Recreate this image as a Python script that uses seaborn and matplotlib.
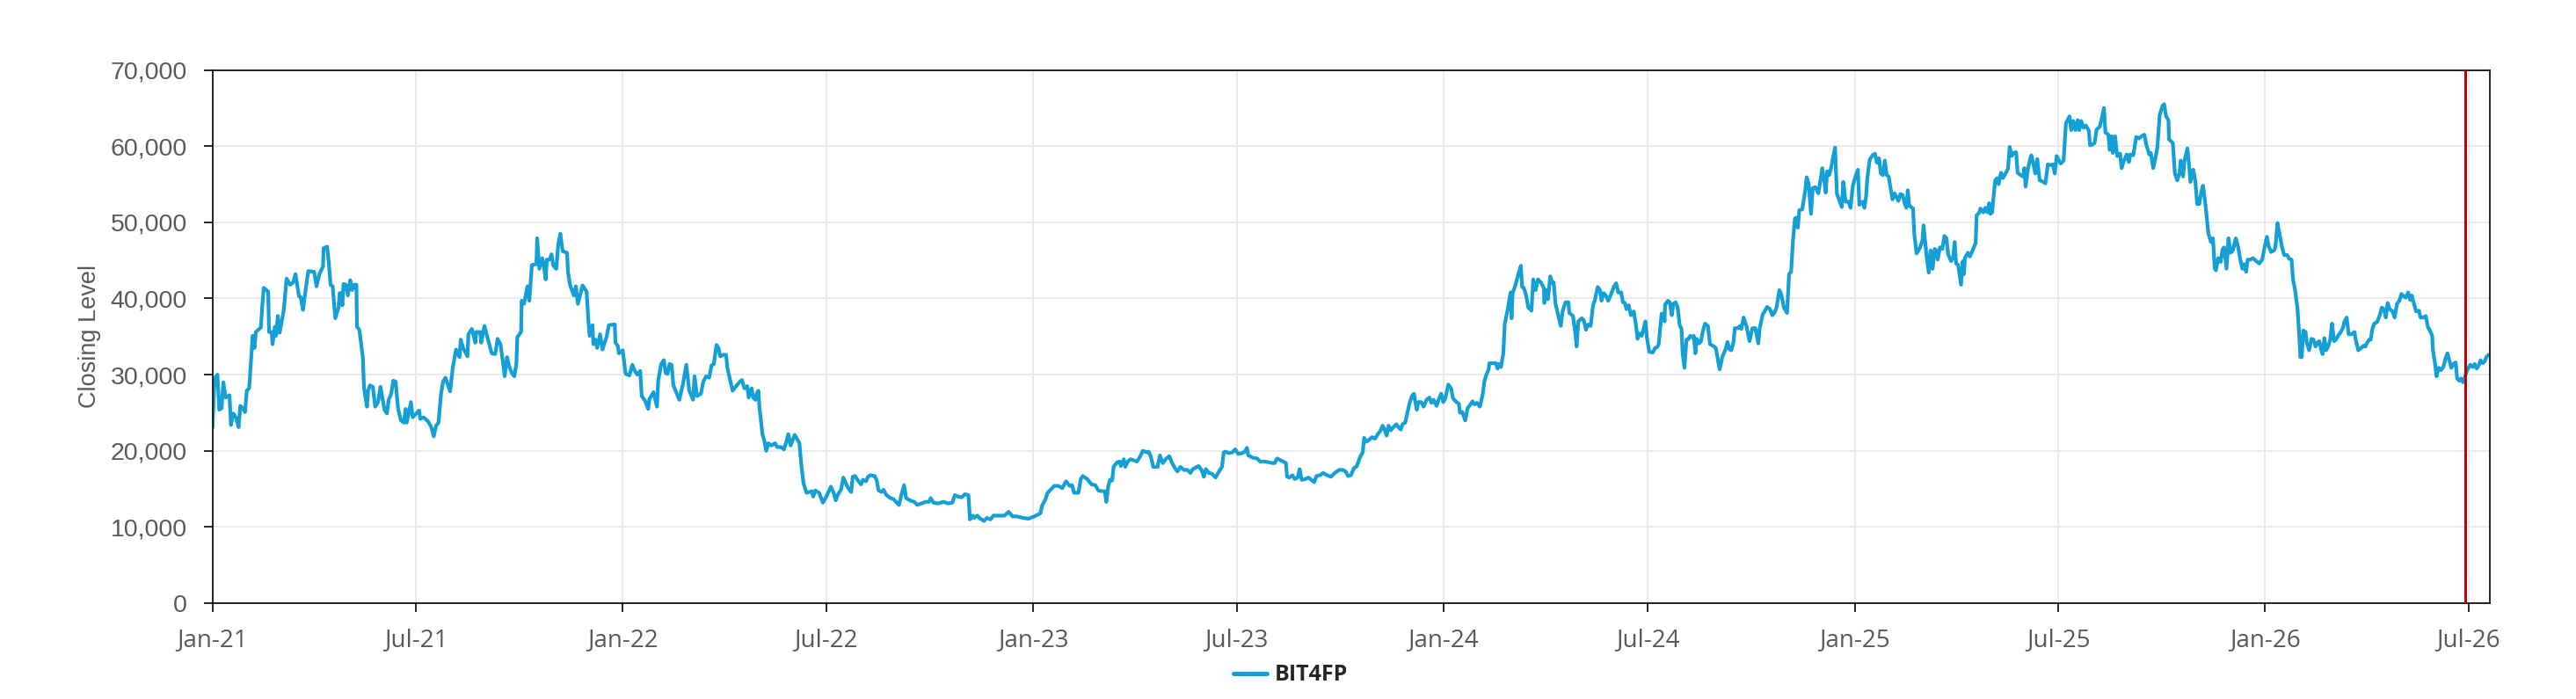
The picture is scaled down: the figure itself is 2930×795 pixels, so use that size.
import numpy as np
import pandas as pd
import matplotlib
matplotlib.use("Agg")
import matplotlib.pyplot as plt
import matplotlib.dates as mdates
from matplotlib.ticker import FuncFormatter, MultipleLocator
from matplotlib.lines import Line2D
import seaborn as sns

# ---------------- data (closing level in thousands, x = days since START) ----------------
START = "2021-01-01"
SERIES_NAME = "BIT4FP"
MARKER_DATE = "2026-06-28"
X_END = "2026-07-20"

seg1_days = [0, 1.8, 4.4, 6.0, 8.1, 9.6, 11.7, 15.1, 16.4, 18.5, 20.8, 23.2, 24.7, 26.8, 28.9, 30.5, 32.6, 35.7, 37.3, 38.6,
             43.0, 44.3, 45.6, 49.5, 50.3, 52.6, 53.4, 55.5, 56.5, 58.1, 59.7, 63.3, 65.9, 69.1, 71.7, 73.8, 76.9, 78.4, 80.5, 82.1,
             85.2, 90.4, 92.5, 95.1, 98.3, 98.8, 101.9, 103.5, 105.0, 106.9, 109.2, 112.1, 113.1, 114.4, 115.5, 116.5, 118.6, 120.4, 122.5, 124.3,
             125.9, 128.0, 128.5, 130.6, 133.7, 134.8, 137.4, 138.4, 140.0, 142.6, 144.7, 147.3, 149.4, 153.0, 155.1, 156.7, 159.0, 160.8, 162.9, 165.0,
             167.6, 170.2, 171.8, 172.8, 176.5, 178.0, 183.8, 184.8, 187.7, 191.6, 194.7, 196.8, 198.9, 201.0, 203.3, 205.1, 207.2, 211.4, 213.7, 216.6,
             219.7, 220.8, 222.9, 226.8, 227.6, 230.7, 233.8, 234.6, 238.0, 239.0, 241.9, 245.8, 248.4, 251.5, 253.6, 256.2, 258.1, 259.9, 262.0, 264.1,
             266.7, 268.5, 270.3, 271.1, 274.5, 275.0, 277.1, 280.2, 281.8, 284.1, 288.1, 288.8, 290.7, 293.3, 294.6, 296.4, 297.4, 299.8, 301.6, 303.2,
             305.8, 307.6, 309.4, 311.5, 315.4, 316.2, 318.0, 321.4, 323.2, 325.0]
seg1_vals = [23.05, 29.5, 30.0, 25.4, 25.6, 29.0, 27.0, 27.3, 23.4, 24.9, 24.4, 23.1, 25.9, 25.6, 25.1, 27.9, 28.2, 35.1, 33.5, 35.6,
             36.2, 39.1, 41.4, 40.9, 35.6, 35.6, 34.0, 36.3, 35.1, 37.7, 35.5, 38.4, 42.6, 41.8, 42.1, 43.2, 40.3, 40.2, 38.5, 40.4,
             43.6, 43.5, 41.6, 43.2, 44.2, 46.6, 46.8, 44.6, 41.8, 41.6, 37.4, 38.8, 40.7, 40.7, 39.1, 41.9, 41.8, 40.4, 42.4, 41.1,
             41.8, 41.8, 36.3, 35.9, 32.3, 28.2, 25.8, 27.9, 28.6, 28.4, 25.8, 26.4, 28.4, 25.4, 24.9, 26.7, 27.5, 29.2, 29.1, 25.6,
             24.0, 23.7, 25.5, 23.7, 26.4, 24.4, 25.3, 24.2, 24.4, 23.9, 23.1, 21.9, 23.3, 23.7, 27.5, 29.1, 29.6, 27.8, 30.9, 33.3,
             32.3, 34.6, 33.5, 32.4, 35.3, 36.0, 34.2, 35.6, 35.6, 34.2, 36.4, 34.2, 32.8, 32.7, 34.7, 34.0, 31.9, 29.8, 32.3, 31.0,
             30.1, 29.8, 31.4, 34.9, 35.6, 39.7, 39.3, 41.6, 39.7, 44.4, 44.5, 47.9, 43.9, 45.3, 44.4, 42.5, 45.1, 45.1, 45.8, 44.3,
             43.9, 47.2, 48.5, 46.2, 46.0, 43.5, 41.8, 40.4, 41.6, 39.3]

seg2_days = [329.2, 332.8, 334.4, 335.4, 338.0, 338.8, 340.7, 342.2, 344.8, 346.9, 350.6, 352.6, 357.9, 358.4, 360.5, 361.5, 364.9, 367.5, 370.9, 373.5,
             375.6, 377.9, 380.5, 381.8, 385.0, 387.6, 388.6, 392.3, 395.4, 396.4, 399.1, 401.4, 403.2, 404.8, 406.6, 408.4, 410.0, 415.2, 418.3, 421.5,
             424.1, 427.5, 428.8, 430.9, 434.5, 436.6, 439.2, 441.8, 443.9, 446.0, 448.3, 450.1, 451.7, 454.3, 456.9, 458.0, 460.1, 462.7, 465.3, 469.2,
             471.0, 473.1, 475.7, 477.0, 479.6, 480.9, 483.0, 484.0, 485.6, 486.6, 489.3, 490.8, 492.6, 494.5, 497.1, 500.5, 502.3, 505.7, 508.3, 510.1,
             512.2, 514.3, 517.9, 522.1, 523.9, 525.8, 528.4, 531.0, 533.1, 534.4, 536.2, 539.6, 543.0, 546.1, 550.0, 552.6, 554.4, 556.5, 559.1, 561.2,
             563.8, 565.6, 568.2, 569.5, 571.6, 574.2, 576.9, 578.7, 581.3, 583.1, 585.2, 589.1, 590.9, 592.5, 595.1, 596.9, 599.5, 602.9, 605.5, 608.7,
             610.7, 612.6, 615.2, 617.0, 620.4, 624.3, 626.9, 630.8, 634.2, 637.3, 638.9, 641.3, 645.2, 650.4, 654.3, 658.2, 660.3, 663.4, 666.5, 669.1,
             672.5, 673.8, 676.4]
seg2_vals = [41.7, 40.9, 37.0, 35.1, 36.5, 34.0, 34.6, 33.5, 35.3, 33.3, 35.0, 36.5, 36.6, 34.2, 33.8, 32.8, 33.2, 30.1, 29.9, 31.3,
             30.5, 30.0, 30.5, 27.2, 26.5, 25.5, 26.8, 27.7, 25.8, 29.1, 31.4, 31.9, 30.2, 30.1, 31.4, 31.3, 28.6, 26.7, 28.6, 31.3,
             27.9, 26.7, 29.8, 27.2, 27.5, 29.1, 29.8, 29.6, 31.2, 31.4, 33.9, 33.5, 32.4, 32.6, 32.6, 30.9, 29.5, 27.9, 28.4, 29.1,
             29.3, 28.2, 28.5, 27.0, 28.2, 27.0, 26.7, 27.5, 27.9, 25.6, 22.1, 21.4, 20.0, 21.0, 20.7, 21.0, 20.5, 20.5, 20.2, 21.0,
             22.2, 20.7, 22.1, 21.0, 18.0, 15.7, 14.5, 14.6, 14.7, 14.0, 14.8, 14.5, 13.2, 14.0, 15.3, 14.5, 13.5, 14.3, 14.9, 16.5,
             15.6, 15.1, 14.6, 16.6, 16.7, 16.1, 15.6, 16.2, 16.0, 16.6, 16.8, 16.7, 16.1, 14.8, 14.6, 14.9, 14.2, 13.8, 13.7, 13.2,
             12.9, 14.1, 15.5, 13.8, 13.5, 13.3, 12.9, 13.1, 13.3, 13.3, 13.8, 13.2, 13.1, 13.3, 13.1, 13.2, 14.2, 14.0, 13.9, 14.3,
             14.2, 11.0, 11.5]

seg3_days = [677.7, 680.3, 683.0, 686.3, 688.9, 692.1, 694.7, 699.9, 704.6, 708.2, 711.6, 715.5, 720.8, 726.0, 731.2, 736.4, 738.0, 741.1, 742.9, 745.5,
             748.9, 752.6, 755.9, 759.3, 762.5, 764.6, 766.4, 770.3, 772.4, 774.2, 778.1, 782.0, 785.4, 788.0, 791.1, 793.8, 795.1, 796.9, 798.4, 800.3,
             801.6, 804.7, 806.8, 808.1, 810.7, 812.0, 814.1, 816.7, 822.4, 825.0, 827.6, 831.6, 832.9, 835.0, 836.8, 840.7, 842.8, 845.4, 848.5, 851.1,
             853.7, 856.3, 858.4, 861.0, 864.1, 867.3, 869.9, 872.0, 877.2, 879.8, 881.9, 883.7, 886.3, 888.9, 892.3, 895.4, 898.0, 899.6, 901.2, 904.5,
             907.2, 909.8, 912.4, 915.8, 918.4, 920.2, 921.5, 925.4, 929.3, 931.9, 935.8, 939.7, 942.9, 945.0, 947.0, 949.6, 952.3, 954.9, 955.9, 958.0,
             960.6, 962.7, 965.3, 967.1, 968.9, 972.3, 974.9, 977.5, 980.1, 982.0, 985.4, 988.0, 991.4, 995.0, 998.4]
seg3_vals = [11.2, 11.5, 11.1, 10.8, 11.2, 11.0, 11.5, 11.5, 11.5, 12.0, 11.4, 11.4, 11.2, 11.1, 11.4, 11.8, 12.8, 13.7, 14.5, 14.9,
             15.4, 15.4, 15.1, 16.0, 15.4, 15.5, 14.5, 14.5, 16.3, 16.7, 16.3, 15.6, 15.5, 14.8, 14.7, 14.7, 13.3, 15.4, 16.2, 16.1,
             17.9, 18.5, 18.6, 18.0, 18.9, 17.9, 18.6, 18.9, 18.6, 19.2, 20.0, 19.8, 19.9, 19.1, 17.9, 17.9, 19.4, 18.4, 19.0, 19.3,
             18.4, 17.7, 17.3, 17.9, 17.5, 17.5, 17.1, 17.6, 18.0, 17.5, 16.6, 17.6, 17.1, 17.0, 16.5, 17.3, 17.9, 19.8, 19.9, 19.7,
             19.8, 20.2, 19.6, 19.7, 19.9, 20.4, 19.4, 19.1, 19.0, 18.6, 18.6, 18.5, 18.4, 18.4, 19.0, 18.8, 18.6, 18.4, 16.6, 16.5,
             16.8, 16.3, 16.5, 17.6, 16.2, 16.3, 16.5, 16.2, 15.9, 16.7, 16.8, 17.1, 16.8, 16.6, 17.1]

seg4_days = [1002.3, 1005.4, 1008.0, 1010.1, 1012.7, 1015.3, 1018.0, 1020.6, 1023.2, 1024.5, 1026.3, 1028.4, 1031.5, 1034.1, 1036.7, 1038.8, 1040.9, 1042.7, 1044.5, 1046.1,
             1048.2, 1050.5, 1053.1, 1055.0, 1057.1, 1058.6, 1061.0, 1062.8, 1064.9, 1067.0, 1068.8, 1070.1, 1071.4, 1072.7, 1075.3, 1077.4, 1080.0, 1082.6, 1084.4, 1086.3,
             1088.9, 1090.9, 1093.0, 1094.9, 1096.7, 1099.3, 1101.9, 1103.5, 1106.6, 1108.7, 1109.7, 1111.8, 1114.4, 1116.5, 1119.1, 1120.9, 1122.7, 1124.8, 1127.4, 1130.1,
             1131.4, 1133.2, 1135.3, 1135.8, 1141.8, 1143.1, 1144.4, 1146.2, 1148.3, 1149.6, 1152.2, 1153.5, 1154.8, 1155.6, 1156.6, 1158.7, 1161.3, 1163.9, 1165.0, 1166.5,
             1168.6, 1170.5, 1172.3, 1173.3, 1174.9, 1177.0, 1179.1, 1181.7, 1184.3, 1184.8, 1186.9, 1188.0, 1190.0, 1192.1, 1193.1, 1194.7, 1197.3, 1199.4, 1201.0, 1203.6,
             1206.2, 1207.0, 1210.3, 1212.2, 1213.5, 1215.0, 1218.2, 1220.0, 1221.8, 1223.9, 1226.0, 1228.1, 1229.6, 1232.2, 1234.3, 1235.6, 1237.5, 1239.5, 1241.6, 1243.7,
             1246.8, 1248.7, 1250.5, 1253.1, 1254.7, 1256.5, 1257.8, 1259.9, 1261.7, 1264.3, 1266.1, 1267.7, 1269.5, 1271.4, 1272.9, 1274.7, 1276.0, 1278.1, 1281.2, 1283.3,
             1285.2, 1286.5, 1289.1, 1291.2, 1291.7, 1292.2, 1294.8, 1296.3, 1298.2, 1299.5, 1301.6, 1303.4, 1305.2, 1306.8, 1307.8, 1309.4, 1311.2, 1312.5, 1314.6, 1316.5,
             1317.8, 1319.1, 1320.4, 1322.4, 1324.2, 1325.6, 1327.7, 1330.3, 1332.1, 1334.7, 1337.3]
seg4_vals = [17.5, 17.5, 17.3, 16.7, 16.8, 17.7, 18.0, 19.1, 19.8, 21.7, 21.2, 21.4, 21.8, 21.6, 22.2, 22.6, 23.3, 22.8, 22.0, 23.3,
             22.7, 23.1, 23.5, 23.1, 22.8, 23.5, 23.7, 24.9, 26.3, 27.2, 27.5, 26.3, 25.4, 26.4, 26.4, 25.8, 26.7, 27.0, 26.3, 26.7,
             25.9, 26.8, 27.5, 26.4, 26.9, 28.7, 28.2, 26.9, 26.4, 26.2, 25.0, 25.1, 24.0, 25.6, 26.1, 26.5, 26.1, 26.3, 25.8, 27.5,
             29.1, 30.0, 30.7, 31.5, 31.5, 30.8, 31.4, 31.0, 32.8, 36.7, 38.6, 39.7, 40.8, 37.4, 40.7, 41.6, 43.0, 44.3, 41.5, 41.4,
             40.4, 38.8, 38.6, 38.4, 42.5, 41.1, 42.5, 42.1, 41.4, 39.4, 41.1, 39.9, 42.9, 42.0, 42.1, 39.3, 37.7, 36.4, 38.3, 39.5,
             39.5, 38.1, 37.7, 35.6, 33.7, 37.0, 37.4, 37.1, 35.9, 36.6, 36.4, 39.1, 39.7, 41.5, 41.1, 39.7, 40.7, 40.4, 39.7, 40.4,
             41.6, 42.0, 40.8, 40.8, 39.5, 39.4, 38.6, 39.1, 37.8, 38.3, 36.7, 34.7, 35.4, 35.1, 35.9, 37.0, 34.9, 33.0, 32.9, 33.5,
             33.6, 34.0, 38.0, 38.0, 37.0, 39.2, 39.7, 39.5, 37.8, 39.3, 39.5, 38.8, 36.5, 36.0, 32.8, 30.9, 34.6, 34.6, 35.1, 34.9,
             35.1, 32.8, 34.7, 34.1, 34.4, 35.6, 36.7, 36.4, 34.0, 33.8, 33.5]

seg5_days = [1340.7, 1343.3, 1345.9, 1347.7, 1349.6, 1351.1, 1353.0, 1354.2, 1356.9, 1358.9, 1360.0, 1362.1, 1364.7, 1367.3, 1369.9, 1372.5, 1375.1, 1376.4, 1379.0, 1380.8,
             1382.9, 1385.5, 1387.6, 1389.4, 1391.3, 1393.9, 1395.4, 1398.0, 1400.7, 1402.5, 1404.3, 1405.9, 1407.7, 1409.0, 1410.3, 1411.6, 1414.2, 1416.8, 1418.1, 1419.9,
             1422.0, 1423.6, 1426.0, 1428.5, 1430.4, 1432.0, 1433.8, 1435.1, 1436.4, 1438.2, 1439.8, 1441.6, 1443.4, 1445.0, 1447.6, 1449.4, 1450.7, 1452.8, 1455.4, 1457.2,
             1459.1, 1461.1, 1463.7, 1465.0, 1467.7, 1469.5, 1471.0, 1472.1, 1474.2, 1476.8, 1478.9, 1480.7, 1482.5, 1484.1, 1485.9, 1487.7, 1489.3, 1491.1, 1492.4, 1494.5,
             1496.3, 1498.2, 1499.7, 1501.5, 1503.4, 1505.5, 1506.8, 1508.1, 1509.4, 1512.8, 1513.8, 1515.9, 1518.5, 1521.1, 1522.1, 1523.7, 1525.0, 1526.8, 1528.4, 1530.2,
             1532.0, 1533.6, 1534.7, 1536.7, 1538.8, 1540.7, 1542.5, 1544.0, 1546.6, 1548.5, 1549.8, 1551.1, 1552.9, 1554.5, 1555.5, 1557.1, 1558.1, 1558.9, 1561.5, 1563.3,
             1565.4, 1568.5, 1569.3, 1571.9, 1572.7, 1575.3, 1577.1, 1579.0, 1580.5, 1581.6, 1583.1, 1585.8, 1587.6, 1588.9, 1591.0, 1592.8, 1595.4, 1597.2, 1598.8, 1600.6,
             1601.9, 1604.5, 1605.8, 1608.4, 1611.0, 1611.8, 1612.9, 1615.0, 1617.3, 1618.1, 1620.2, 1621.5, 1623.3, 1625.4, 1627.5, 1630.5, 1632.7, 1635.3, 1637.1, 1638.9,
             1640.5, 1642.3, 1644.1, 1646.7, 1648.8, 1652.0, 1653.5, 1655.3, 1657.2, 1659.3, 1660.6, 1662.4, 1664.5, 1666.6, 1669.2, 1670.2]
seg5_vals = [30.7, 32.4, 33.3, 34.3, 33.3, 33.2, 34.2, 36.1, 36.1, 36.4, 36.0, 37.5, 36.3, 34.4, 36.1, 36.1, 34.1, 36.1, 37.9, 38.3,
             38.9, 38.6, 37.8, 38.1, 38.8, 41.1, 40.6, 38.8, 38.1, 43.2, 43.5, 47.5, 50.5, 50.6, 49.3, 51.6, 51.7, 54.1, 55.9, 55.1,
             51.1, 54.5, 54.6, 53.8, 55.5, 57.1, 55.4, 53.9, 56.7, 56.2, 57.1, 58.5, 59.8, 53.8, 52.7, 52.0, 55.3, 52.7, 52.7, 51.9,
             54.7, 55.8, 56.9, 52.3, 52.7, 51.9, 53.4, 55.8, 58.2, 58.8, 59.0, 57.8, 58.4, 56.4, 56.2, 58.1, 56.2, 56.0, 54.8, 53.0,
             53.8, 53.3, 52.8, 53.7, 53.6, 52.4, 51.9, 54.2, 52.2, 51.8, 48.6, 45.9, 46.5, 47.6, 49.6, 47.2, 45.3, 43.4, 46.3, 43.9,
             46.5, 46.3, 45.1, 46.7, 46.5, 48.2, 47.9, 45.8, 44.9, 45.4, 47.4, 44.6, 44.4, 42.8, 41.8, 44.9, 43.2, 45.3, 46.0, 45.5,
             46.2, 47.3, 50.9, 51.3, 51.8, 51.3, 51.9, 51.3, 52.5, 51.1, 51.3, 55.5, 55.8, 55.0, 56.5, 55.8, 56.5, 57.0, 59.9, 58.7,
             59.1, 59.2, 56.5, 56.2, 56.0, 57.1, 54.7, 57.0, 58.5, 58.8, 57.4, 56.4, 58.3, 55.5, 55.4, 55.1, 57.6, 57.5, 57.6, 56.4,
             58.7, 58.2, 57.7, 58.1, 63.0, 63.9, 62.1, 63.3, 62.1, 63.4, 62.1, 63.3, 62.4, 62.7, 62.0, 60.1]

seg6_days = [1672.2, 1674.3, 1676.1, 1678.7, 1680.5, 1682.6, 1683.9, 1686.5, 1687.8, 1689.4, 1690.5, 1692.5, 1694.4, 1697.0, 1698.3, 1700.4, 1702.9, 1704.8, 1706.1, 1708.7,
             1711.3, 1713.9, 1716.0, 1718.6, 1720.4, 1723.0, 1724.3, 1726.4, 1728.3, 1730.1, 1732.2, 1734.8, 1736.1, 1737.9, 1740.0, 1740.5, 1743.9, 1745.7, 1747.8, 1749.9,
             1750.9, 1753.0, 1754.3, 1756.9, 1758.7, 1759.5, 1762.1, 1764.0, 1765.5, 1767.4, 1769.2, 1770.7, 1772.6, 1773.9, 1775.4, 1777.8, 1779.6, 1781.2, 1782.2, 1784.3,
             1786.4, 1788.2, 1789.5, 1791.6, 1793.4, 1795.3, 1797.3, 1799.9, 1802.0, 1803.9, 1805.7, 1807.2, 1809.1, 1810.4, 1813.0, 1815.1, 1818.2, 1820.8, 1823.4, 1825.5,
             1827.6, 1829.1, 1831.2, 1833.8, 1835.1, 1837.0, 1839.0, 1841.1, 1842.9, 1845.6, 1847.4, 1849.5, 1850.8, 1852.6, 1854.7, 1856.0, 1857.3, 1858.6, 1859.9, 1862.0,
             1863.0, 1865.1, 1867.2, 1869.0, 1870.9, 1872.4, 1874.2, 1875.5, 1877.1, 1878.7, 1880.2, 1882.1, 1883.9, 1885.5, 1887.3, 1889.1, 1891.2, 1893.3, 1895.1, 1896.4,
             1898.5, 1900.3, 1902.9, 1905.5, 1906.8, 1908.9, 1911.5, 1913.4, 1915.2, 1916.7, 1918.6, 1919.9, 1921.2, 1923.0, 1925.6, 1927.7, 1929.8, 1931.6, 1933.4, 1935.0,
             1936.8, 1939.4, 1941.2, 1943.3, 1945.4, 1947.2, 1949.1, 1951.2, 1953.2, 1955.1, 1956.4, 1958.4, 1960.3, 1962.9, 1964.2, 1966.8, 1968.9, 1970.7, 1972.5, 1974.6,
             1975.2, 1976.7, 1978.5, 1980.4, 1982.4, 1984.5, 1986.4, 1988.2, 1989.8, 1991.6, 1993.4, 1995.5, 1996.8, 1998.6, 2000.2, 2002.0, 2003.3, 2005.4, 2008.5, 2010.6,
             2012.4, 2014.2, 2016.3, 2017.6, 2019.5, 2021.5, 2022.8, 2024.7]
seg6_vals = [60.2, 60.4, 62.2, 62.5, 63.5, 65.0, 61.8, 61.5, 59.5, 61.3, 59.1, 61.3, 58.7, 59.0, 57.1, 58.1, 58.9, 57.9, 58.9, 58.8,
             61.2, 61.0, 61.3, 61.5, 60.1, 58.9, 59.1, 57.1, 58.4, 59.8, 64.1, 65.3, 65.5, 63.9, 63.4, 60.9, 60.4, 56.4, 55.5, 56.5,
             58.1, 56.0, 58.1, 59.7, 56.9, 55.3, 56.9, 55.3, 52.4, 52.4, 54.0, 54.8, 52.7, 50.9, 48.6, 47.4, 47.9, 43.9, 43.7, 45.3,
             44.8, 46.5, 46.7, 43.9, 47.9, 46.0, 46.3, 47.9, 46.7, 45.1, 43.9, 44.5, 43.5, 45.1, 45.1, 45.3, 44.9, 44.6, 45.1, 46.7,
             48.1, 46.9, 46.1, 46.3, 46.7, 49.9, 48.3, 46.7, 45.7, 45.7, 45.2, 45.1, 42.5, 41.1, 38.8, 36.0, 32.3, 32.3, 35.8, 35.6,
             34.2, 33.2, 34.7, 34.6, 33.7, 34.2, 34.4, 33.5, 32.7, 34.8, 33.2, 33.7, 34.6, 36.7, 34.4, 34.6, 35.2, 35.6, 36.1, 36.9,
             37.5, 35.3, 35.3, 35.6, 34.4, 33.2, 33.5, 33.8, 33.7, 34.2, 34.6, 34.6, 35.9, 36.7, 36.9, 37.7, 38.8, 38.6, 37.5, 39.4,
             38.6, 38.3, 37.5, 39.3, 39.7, 40.6, 40.3, 40.1, 40.8, 39.8, 40.4, 39.3, 38.3, 38.4, 37.5, 37.5, 37.7, 36.3, 35.8, 35.1,
             33.3, 31.9, 29.8, 30.9, 30.6, 31.0, 32.1, 32.8, 31.9, 30.9, 31.4, 31.6, 29.5, 29.2, 29.5, 29.0, 29.5, 30.5, 31.3, 31.0,
             31.4, 30.8, 31.3, 31.9, 31.5, 31.8, 32.3, 32.6]

# ---------------- assemble ----------------
segments = [(seg1_days, seg1_vals), (seg2_days, seg2_vals), (seg3_days, seg3_vals),
            (seg4_days, seg4_vals), (seg5_days, seg5_vals), (seg6_days, seg6_vals)]
for i, (d, v) in enumerate(segments, 1):
    if len(d) != len(v):
        raise ValueError(f"segment {i}: {len(d)} days vs {len(v)} values")
all_days = [x for d, _ in segments for x in d]
all_vals = [x for _, v in segments for x in v]

df = pd.DataFrame({
    "Date": pd.Timestamp(START) + pd.to_timedelta(all_days, unit="D"),
    "Close": np.array(all_vals) * 1000.0,
    "Series": SERIES_NAME,
})

BLUE = "#149FD6"
RED = "#C00000"
GREY_TXT = "#595959"
ARIAL = ["Liberation Sans", "DejaVu Sans"]
SANS = ["Open Sans", "DejaVu Sans"]

sns.set_theme(style="white")
plt.rcParams["font.family"] = SANS

fig = plt.figure(figsize=(29.3, 7.95), dpi=100)
ax = fig.add_axes([0.0825, 0.137, 0.8841, 0.763])

sns.lineplot(data=df, x="Date", y="Close", hue="Series", palette=[BLUE],
             estimator=None, sort=False, linewidth=3.0, ax=ax, legend=False)
ax.axvline(pd.Timestamp(MARKER_DATE), color=RED, linewidth=2.2, zorder=5)

ax.set_xlim(pd.Timestamp(START), pd.Timestamp(X_END))
ax.set_ylim(0, 70000)
ax.yaxis.set_major_locator(MultipleLocator(10000))
ax.yaxis.set_major_formatter(FuncFormatter(lambda v, p: f"{int(round(v)):,}"))
ax.xaxis.set_major_locator(mdates.MonthLocator(bymonth=[1, 7]))
ax.xaxis.set_major_formatter(mdates.DateFormatter("%b-%y"))

ax.grid(True, color="#ebebeb", linewidth=1.4)
ax.set_axisbelow(True)
for s in ax.spines.values():
    s.set_visible(True)
    s.set_color("black")
    s.set_linewidth(1.2)

ax.tick_params(axis="x", direction="out", length=7.2, width=1.2, color="black",
               labelcolor=GREY_TXT, labelsize=20, bottom=True, pad=13)
ax.tick_params(axis="y", direction="out", length=7.2, width=1.2, color="black",
               labelcolor=GREY_TXT, labelsize=20.5, left=True, pad=13.5)
for lbl in ax.get_yticklabels():
    lbl.set_family(ARIAL)

ax.set_xlabel("")
ax.set_ylabel("Closing Level", color=GREY_TXT, fontsize=19.5, family=ARIAL)
ax.yaxis.set_label_coords(-0.049, 0.5)

handle = Line2D([0], [0], color=BLUE, linewidth=3.6, solid_capstyle="round")
fig.legend([handle], [SERIES_NAME], loc="center", bbox_to_anchor=(0.501, 0.034),
           frameon=False, prop={"weight": "bold", "size": 18},
           handlelength=1.55, handletextpad=0.35)

fig.savefig("out.png", dpi=100)
